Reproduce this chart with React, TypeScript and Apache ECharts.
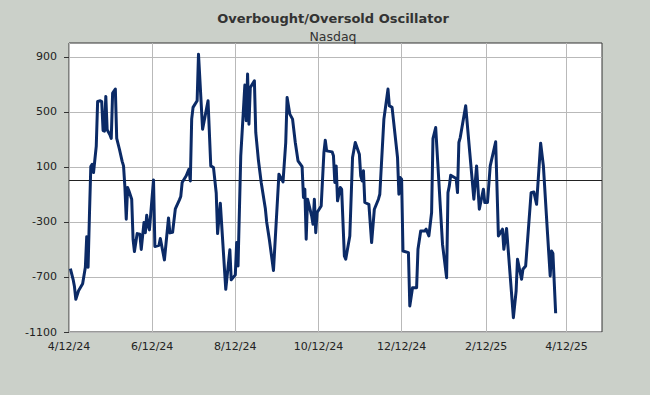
import React, { useEffect, useRef } from "react";
import * as echarts from "echarts";

const chartTitle = "Overbought/Oversold Oscillator";
const chartSubtitle = "Nasdaq";

const dates = [
  "2024-04-13", "2024-04-15", "2024-04-16", "2024-04-17", "2024-04-19", "2024-04-22", "2024-04-24", "2024-04-25",
  "2024-04-26", "2024-04-27", "2024-04-28", "2024-04-29", "2024-04-30", "2024-05-02", "2024-05-03", "2024-05-05",
  "2024-05-06", "2024-05-07", "2024-05-08", "2024-05-09", "2024-05-10", "2024-05-12", "2024-05-13", "2024-05-14",
  "2024-05-16", "2024-05-17", "2024-05-19", "2024-05-21", "2024-05-22", "2024-05-23", "2024-05-24", "2024-05-25",
  "2024-05-26", "2024-05-28", "2024-05-29", "2024-05-30", "2024-06-01", "2024-06-03", "2024-06-04", "2024-06-06",
  "2024-06-07", "2024-06-08", "2024-06-09", "2024-06-10", "2024-06-13", "2024-06-14", "2024-06-17", "2024-06-18",
  "2024-06-21", "2024-06-24", "2024-06-25", "2024-06-27", "2024-06-29", "2024-07-02", "2024-07-03", "2024-07-04",
  "2024-07-07", "2024-07-09", "2024-07-10", "2024-07-11", "2024-07-12", "2024-07-15", "2024-07-16", "2024-07-19",
  "2024-07-23", "2024-07-25", "2024-07-27", "2024-07-29", "2024-07-30", "2024-08-01", "2024-08-05", "2024-08-08",
  "2024-08-09", "2024-08-12", "2024-08-13", "2024-08-14", "2024-08-16", "2024-08-19", "2024-08-20", "2024-08-21",
  "2024-08-22", "2024-08-23", "2024-08-26", "2024-08-27", "2024-08-29", "2024-08-31", "2024-09-03", "2024-09-04",
  "2024-09-06", "2024-09-09", "2024-09-13", "2024-09-16", "2024-09-18", "2024-09-19", "2024-09-21", "2024-09-23",
  "2024-09-25", "2024-09-27", "2024-09-30", "2024-10-01", "2024-10-02", "2024-10-03", "2024-10-04", "2024-10-07",
  "2024-10-08", "2024-10-09", "2024-10-10", "2024-10-11", "2024-10-14", "2024-10-16", "2024-10-17", "2024-10-18",
  "2024-10-22", "2024-10-23", "2024-10-24", "2024-10-25", "2024-10-26", "2024-10-28", "2024-10-29", "2024-10-31",
  "2024-11-01", "2024-11-04", "2024-11-06", "2024-11-08", "2024-11-11", "2024-11-12", "2024-11-13", "2024-11-14",
  "2024-11-15", "2024-11-18", "2024-11-20", "2024-11-22", "2024-11-25", "2024-11-26", "2024-11-29", "2024-12-02",
  "2024-12-03", "2024-12-05", "2024-12-09", "2024-12-10", "2024-12-11", "2024-12-12", "2024-12-13", "2024-12-17",
  "2024-12-18", "2024-12-20", "2024-12-23", "2024-12-24", "2024-12-26", "2024-12-29", "2024-12-30", "2025-01-01",
  "2025-01-03", "2025-01-04", "2025-01-06", "2025-01-11", "2025-01-14", "2025-01-15", "2025-01-16", "2025-01-17",
  "2025-01-21", "2025-01-22", "2025-01-23", "2025-01-24", "2025-01-28", "2025-01-31", "2025-02-03", "2025-02-05",
  "2025-02-07", "2025-02-10", "2025-02-11", "2025-02-13", "2025-02-15", "2025-02-19", "2025-02-21", "2025-02-24",
  "2025-02-25", "2025-02-27", "2025-03-04", "2025-03-06", "2025-03-07", "2025-03-10", "2025-03-11", "2025-03-13",
  "2025-03-17", "2025-03-19", "2025-03-21", "2025-03-24", "2025-03-26", "2025-03-29", "2025-03-31", "2025-04-01",
  "2025-04-02", "2025-04-04",
];

const oscillator = [
  -639, -717, -770, -862, -800, -750, -630, -407,
  -630, -250, 102, 119, 59, 250, 575, 580,
  575, 364, 360, 612, 369, 333, 307, 636,
  665, 307, 228, 140, 107, -45, -281, -50,
  -75, -135, -426, -515, -385, -390, -500, -305,
  -378, -252, -324, -358, 5, -479, -470, -420,
  -576, -271, -380, -375, -205, -140, -115, -14,
  35, 83, -2, 447, 532, 580, 919, 374,
  580, 107, 95, -90, -385, -164, -790, -503,
  -721, -685, -450, -620, 180, 694, 435, 774,
  410, 677, 725, 350, 144, -14, -200, -300,
  -430, -653, 47, -9, 277, 604, 483, 447,
  277, 144, 102, -123, -62, -426, -135, -256,
  -317, -135, -378, -232, -184, 204, 294, 216,
  209, 180, -14, 107, -147, -50, -62, -547,
  -571, -402, 168, 277, 192, 35, -2, 71,
  -159, -172, -450, -208, -135, -99, 447, 665,
  544, 532, 168, -99, 22, 10, -511, -523,
  -911, -778, -778, -499, -366, -366, -353, -402,
  -232, 305, 386, -462, -705, -87, -38, 39,
  15, -87, 277, 313, 544, 204, -135, 107,
  -208, -62, -159, -159, 107, 282, -402, -353,
  -499, -348, -996, -802, -571, -717, -644, -620,
  -87, -82, -172, 272, 107, -378, -693, -511,
  -530, -964,
];

const xTickDates = ["2024-04-12", "2024-06-12", "2024-08-12", "2024-10-12", "2024-12-12", "2025-02-12", "2025-04-12"];
const xRange = ["2024-04-12", "2025-05-08"];
const yTicks = [-1100, -700, -300, 100, 500, 900];
const yRange = [-1100, 1000];
const referenceLevel = 0;

function toTime(s: string): number {
  const [y, m, d] = s.split("-").map(Number);
  return new Date(y, m - 1, d).getTime();
}

function fmtDate(v: number): string {
  const d = new Date(v);
  return `${d.getMonth() + 1}/${d.getDate()}/${String(d.getFullYear()).slice(2)}`;
}

export default function App() {
  const ref = useRef<HTMLDivElement>(null);

  useEffect(() => {
    if (!ref.current) return;
    const chart = echarts.init(ref.current, null, { renderer: "svg" });
    const font = "DejaVu Sans";
    const xTicks = xTickDates.map(toTime);
    const option: any = {
      animation: false,
      backgroundColor: "#cbd0c9",
      textStyle: { fontFamily: font },
      graphic: [
        {
          type: "text",
          x: 333,
          y: 18,
          style: {
            text: chartTitle,
            fontFamily: font,
            fontSize: 13,
            fontWeight: "bold",
            fill: "#333333",
            textAlign: "center",
            textVerticalAlign: "middle",
          },
        },
        {
          type: "text",
          x: 333,
          y: 36,
          style: {
            text: chartSubtitle,
            fontFamily: font,
            fontSize: 12.5,
            fill: "#333333",
            textAlign: "center",
            textVerticalAlign: "middle",
          },
        },
      ],
      grid: {
        left: 69,
        right: 48,
        top: 43,
        bottom: 63,
        show: true,
        backgroundColor: "#ffffff",
        borderColor: "#333333",
        borderWidth: 1,
      },
      xAxis: {
        type: "value",
        min: toTime(xRange[0]),
        max: toTime(xRange[1]),
        axisLine: { show: false },
        axisTick: { show: false, customValues: xTicks },
        axisLabel: {
          customValues: xTicks,
          formatter: (v: number) => fmtDate(v),
          color: "#222222",
          fontSize: 11,
          fontFamily: font,
          margin: 9,
        },
        splitLine: { show: true, lineStyle: { color: "#b9b9b9", width: 1 } },
      },
      yAxis: {
        type: "value",
        min: yRange[0],
        max: yRange[1],
        axisLine: { show: false },
        axisTick: { show: true, length: 5, customValues: yTicks, lineStyle: { color: "#333333" } },
        axisLabel: {
          customValues: yTicks,
          formatter: (v: number) => String(v),
          color: "#222222",
          fontSize: 11,
          fontFamily: font,
          margin: 12,
        },
        splitLine: { show: true, lineStyle: { color: "#b9b9b9", width: 1 } },
      },
      series: [
        {
          type: "line",
          z: 3,
          showSymbol: false,
          symbol: "none",
          data: dates.map((d, i) => [toTime(d), oscillator[i]]),
          lineStyle: { color: "#0b2a66", width: 3, join: "round" },
          markLine: {
            silent: true,
            symbol: "none",
            z: 1,
            label: { show: false },
            lineStyle: { color: "#222222", width: 1, type: "solid" },
            data: [{ yAxis: referenceLevel }],
          },
        },
      ],
    };
    chart.setOption(option);
    return () => chart.dispose();
  }, []);

  return (
    <div
      ref={ref}
      style={{ position: "fixed", left: 0, top: 0, width: 650, height: 395 }}
    />
  );
}
